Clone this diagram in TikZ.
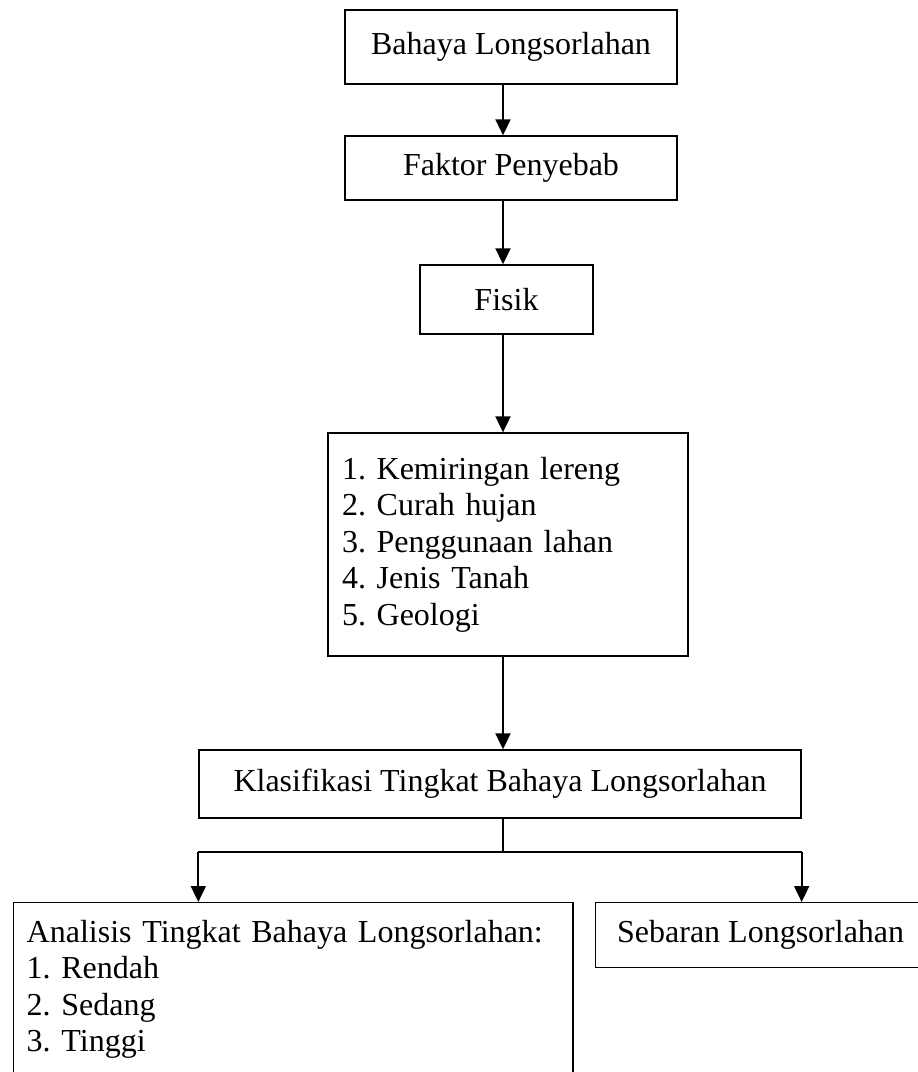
\documentclass[tikz,border=0pt]{standalone}
\usepackage{fontspec}
\setmainfont{Liberation Serif}
\usetikzlibrary{arrows.meta,positioning}

\begin{document}
\begin{tikzpicture}[
        x=0.375pt, y=-0.375pt,
        every node/.style={draw,line width=0.5pt,inner sep=0pt,font=\fontsize{12}{13.7}\selectfont\frenchspacing},
        panah/.style={->,line width=0.8pt},
        >={Triangle[width=5.6pt,length=6pt]} % 箭头样式
    ]
        \useasboundingbox (0,0) rectangle (918,1072);

        % 定义节点
        \node (A) [minimum width=124.5pt,minimum height=27.75pt] at (511,47) {Bahaya Longsorlahan};
        \node (B) [minimum width=124.5pt,minimum height=24pt] at (511,168) {Faktor Penyebab};
        \node (C) [minimum width=64.9pt,minimum height=25.9pt] at (506.5,299.5) {Fisik};
        \node (D) [text width=124.5pt,align=left,inner xsep=5.25pt,minimum height=83.6pt] at (508,544.5)
            {1. Kemiringan lereng\\2. Curah hujan\\3. Penggunaan lahan\\4. Jenis Tanah\\5. Geologi};
        \node (E) [minimum width=225.75pt,minimum height=25.5pt] at (500,784) {Klasifikasi Tingkat Bahaya Longsorlahan};
        \node (F) [anchor=north west,text width=199.9pt,align=left,inner xsep=4.9pt,minimum height=64.9pt] at (13,902)
            {Analisis Tingkat Bahaya Longsorlahan:\\1. Rendah\\2. Sedang\\3. Tinggi};
        \node (G) [anchor=north west,minimum width=123.75pt,minimum height=24.4pt] at (595,902) {Sebaran Longsorlahan};
        \coordinate (M) at (503,852);

        % 连接节点
        \draw [panah] (A.south -| M) -- (B.north -| M);
        \draw [panah] (B.south -| M) -- (C.north -| M);
        \draw [panah] (C.south -| M) -- (D.north -| M);
        \draw [panah] (D.south -| M) -- (E.north -| M);
        \draw [line width=0.4pt] (E.south -| M) -- (M);
        \draw [line width=0.4pt] (E.west |- M) -- (E.east |- M);
        \draw [panah] (E.west |- M) -- (E.west |- F.north);
        \draw [panah] (E.east |- M) -- (E.east |- G.north);

    \end{tikzpicture}
\end{document}
